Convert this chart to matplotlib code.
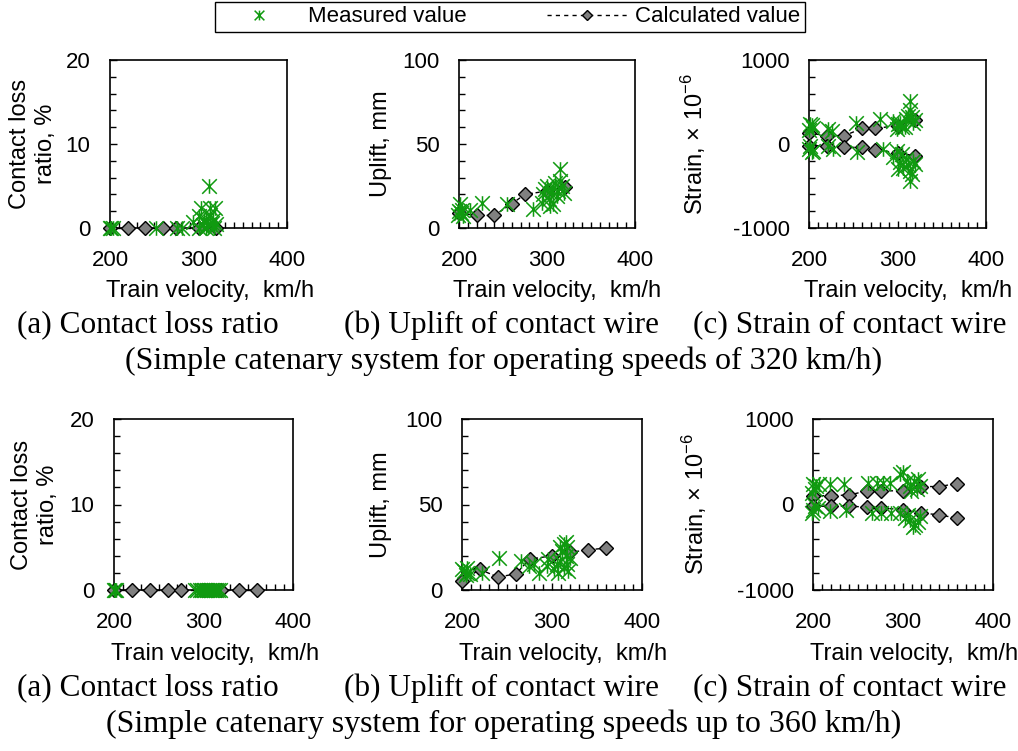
import numpy as np
import matplotlib
matplotlib.use("Agg")
import matplotlib.pyplot as plt
from matplotlib.path import Path
from matplotlib.ticker import MultipleLocator
from matplotlib.lines import Line2D

plt.rcParams['font.family'] = ['Liberation Sans', 'DejaVu Sans']
plt.rcParams['mathtext.fontset'] = 'custom'
plt.rcParams['mathtext.rm'] = 'Liberation Sans'
plt.rcParams['axes.unicode_minus'] = False

W, H = 1018, 751
GREEN = '#109a10'
GRAY = '#808080'

# --- calculated values ---
calc_v_320 = [200, 220, 240, 260, 275, 300, 320]
calc_v_360 = [200, 220, 240, 260, 275, 300, 320, 340, 360]

calc_loss_320 = [0, 0, 0, 0, 0, 0, 0]
calc_loss_360 = [0, 0, 0, 0, 0, 0, 0, 0, 0]
calc_uplift_320 = [9, 7.5, 7.5, 14.5, 20, 22, 24.5]
calc_uplift_360 = [5.5, 12, 7.5, 9.5, 18, 20, 22, 23.5, 24.5]
calc_strain_up_320 = [130, 100, 100, 185, 185, 220, 285]
calc_strain_lo_320 = [-20, -20, -40, -40, -70, -105, -140]
calc_strain_up_360 = [100, 105, 110, 160, 160, 160, 210, 210, 245]
calc_strain_lo_360 = [-20, -20, -20, -30, -40, -60, -100, -120, -160]

# --- measured values ---
meas_loss_320_v = [200, 201, 203, 252, 276, 281, 294, 300, 301, 303, 305, 306, 308, 309, 310, 311,
                   312, 313, 313, 315, 316, 318, 319, 320]
meas_loss_320 = [0, 0, 0, 0, 0, 0, 0.7, 0, 1.4, 2.4, 0.4, 1.0, 0, 1.0, 0.3, 0.2,
                 5.0, 2.4, 1.5, 0.6, 1.0, 0, 2.4, 0.5]

meas_uplift_320_v = [199, 200, 201, 202, 203, 205, 212, 226, 254, 284, 294, 296, 298, 300, 302, 303,
                     305, 307, 307, 309, 311, 313, 315, 315, 317, 319]
meas_uplift_320 = [8, 10, 14, 9, 11, 7, 11, 15, 14, 11.5, 15, 20, 23, 25, 17, 13,
                   21, 14, 24, 27, 19, 22, 35, 28, 25, 21]

meas_strain_up_320_v = [200, 201, 203, 205, 221, 226, 253, 280, 295, 299, 301, 303, 305, 308, 310,
                        312, 314, 314, 316, 318, 320]
meas_strain_up_320 = [170, 240, 230, 190, 180, 160, 255, 295, 275, 180, 240, 255, 200, 200, 295,
                      330, 515, 400, 320, 255, 280]
meas_strain_lo_320_v = [200, 201, 203, 205, 222, 227, 254, 284, 295, 299, 300, 303, 305, 306, 310,
                        312, 314, 314, 316, 318, 320]
meas_strain_lo_320 = [-60, -20, -100, -80, -20, -60, -100, -60, -160, -80, -300, -220, -120, -280, -180,
                      -250, -320, -440, -360, -200, -240]

meas_loss_360_v = [200, 201, 202, 290, 293, 296, 298, 300, 302, 304, 306, 308, 310, 312, 314, 316, 318]
meas_loss_360 = [0] * len(meas_loss_360_v)

meas_uplift_360_v = [200, 202, 204, 205, 206, 209, 222, 241, 265, 274, 280, 285, 294, 296, 302, 305,
                     307, 309, 309, 311, 313, 313, 315, 315, 317, 317, 318, 320]
meas_uplift_360 = [12, 11, 9, 13, 10, 9.5, 10, 19, 17, 14, 15, 10, 14, 18, 12, 15,
                   10, 17, 25, 23, 27, 13, 20, 28, 25, 15, 11, 19]

meas_strain_up_360_v = [199, 200, 202, 203, 207, 219, 234, 261, 271, 278, 286, 297, 300, 304, 308,
                        309, 312, 315, 317, 319]
meas_strain_up_360 = [140, 240, 180, 220, 240, 240, 240, 255, 255, 255, 255, 355, 375, 275, 220,
                      160, 275, 180, 300, 220]
meas_strain_lo_360_v = [199, 200, 202, 206, 219, 237, 265, 276, 287, 297, 302, 306, 308, 311, 313,
                        317, 319]
meas_strain_lo_360 = [-100, -60, -20, -40, -80, -60, -100, -100, -100, -100, -160, -120, -180, -260,
                      -240, -200, -140]

# Excel-like star marker (x with a vertical bar)
star = Path([(-1, -1), (1, 1), (-1, 1), (1, -1), (0, -1), (0, 1)],
            [Path.MOVETO, Path.LINETO, Path.MOVETO, Path.LINETO, Path.MOVETO, Path.LINETO])


def rect(x0, x1, y0, y1):
    return [x0 / W, 1 - y1 / H, (x1 - x0) / W, (y1 - y0) / H]


def plot_calc(ax, v, y):
    ax.plot(v, y, color='black', linestyle=(0, (3, 2)), linewidth=1,
            marker='D', markersize=7, markerfacecolor=GRAY, markeredgecolor='black',
            markeredgewidth=1, clip_on=False, zorder=3)


def plot_meas(ax, v, y):
    ax.plot(v, y, linestyle='none', marker=star, markersize=10.5, markerfacecolor='none',
            markeredgecolor=GREEN, markeredgewidth=1.1, clip_on=False, zorder=4)


def style_axes(ax, ylim, ymajor, yminor, ylabel, ylab_x, xlab_x):
    ax.set_xlim(200, 400)
    ax.set_ylim(*ylim)
    ax.xaxis.set_major_locator(MultipleLocator(100))
    ax.xaxis.set_minor_locator(MultipleLocator(10))
    ax.yaxis.set_major_locator(MultipleLocator(ymajor))
    ax.yaxis.set_minor_locator(MultipleLocator(yminor))
    ax.tick_params(which='both', direction='in', top=False, right=False, labelsize=16)
    ax.tick_params(which='major', length=5, width=1)
    ax.tick_params(which='minor', length=4, width=1)
    ax.tick_params(axis='x', pad=16)
    ax.tick_params(axis='y', pad=14)
    for s in ax.spines.values():
        s.set_linewidth(1.2)
    ax.set_xlabel('Train velocity,  km/h', fontsize=17)
    ax.xaxis.set_label_coords(xlab_x, -0.31)
    ax.set_ylabel(ylabel, fontsize=17, linespacing=1.2)
    ax.yaxis.set_label_coords(ylab_x, 0.5)


fig = plt.figure(figsize=(W / 100, H / 100), dpi=100)

rows = [
    dict(y0=60, y1=228, rects=[(110, 287), (459, 635), (809, 986)], ylab=[-0.30, -0.38, -0.57],
         loss=(calc_v_320, calc_loss_320, meas_loss_320_v, meas_loss_320),
         uplift=(calc_v_320, calc_uplift_320, meas_uplift_320_v, meas_uplift_320),
         strain=(calc_v_320, calc_strain_up_320, calc_strain_lo_320,
                 meas_strain_up_320_v, meas_strain_up_320, meas_strain_lo_320_v, meas_strain_lo_320),
         caption='(Simple catenary system for operating speeds of 320 km/h)', cap_y=325),
    dict(y0=419, y1=590, rects=[(114, 293), (462, 642), (813, 993)], ylab=[-0.31, -0.39, -0.58],
         loss=(calc_v_360, calc_loss_360, meas_loss_360_v, meas_loss_360),
         uplift=(calc_v_360, calc_uplift_360, meas_uplift_360_v, meas_uplift_360),
         strain=(calc_v_360, calc_strain_up_360, calc_strain_lo_360,
                 meas_strain_up_360_v, meas_strain_up_360, meas_strain_lo_360_v, meas_strain_lo_360),
         caption='(Simple catenary system for operating speeds up to 360 km/h)', cap_y=688),
]

sub_titles = ['(a) Contact loss ratio', '(b) Uplift of contact wire', '(c) Strain of contact wire']
sub_x = [148, 502, 850]

for row in rows:
    (ax0, ax1), (bx0, bx1), (cx0, cx1) = row['rects']
    ax_a = fig.add_axes(rect(ax0, ax1, row['y0'], row['y1']))
    ax_b = fig.add_axes(rect(bx0, bx1, row['y0'], row['y1']))
    ax_c = fig.add_axes(rect(cx0, cx1, row['y0'], row['y1']))
    la, lb, lc = row['ylab']

    cv, cy, mv, my = row['loss']
    plot_calc(ax_a, cv, cy)
    plot_meas(ax_a, mv, my)
    style_axes(ax_a, (0, 20), 10, 2, 'Contact loss\nratio, %', la, 0.565)

    cv, cy, mv, my = row['uplift']
    plot_calc(ax_b, cv, cy)
    plot_meas(ax_b, mv, my)
    style_axes(ax_b, (0, 100), 50, 10, 'Uplift, mm', lb, 0.56)

    cv, cup, clo, muv, mup, mlv, mlo = row['strain']
    plot_calc(ax_c, cv, cup)
    plot_calc(ax_c, cv, clo)
    plot_meas(ax_c, muv, mup)
    plot_meas(ax_c, mlv, mlo)
    style_axes(ax_c, (-1000, 1000), 1000, 200, r'Strain, $\times$ 10$^{-6}$', lc, 0.56)

    for t, x in zip(sub_titles, sub_x):
        fig.text(x / W, 1 - row['cap_y'] / H, t, ha='center', va='center',
                 fontsize=22.5, family='Liberation Serif')
    fig.text(504 / W, 1 - (row['cap_y'] + 36) / H, row['caption'], ha='center', va='center',
             fontsize=23, family='Liberation Serif')

# legend
h_meas = Line2D([], [], linestyle='none', marker=star, markersize=10, markerfacecolor='none',
                markeredgecolor=GREEN, markeredgewidth=1.1)
h_calc = Line2D([], [], color='black', linestyle=(0, (3, 3)), linewidth=1, marker='D', markersize=7,
                markerfacecolor=GRAY, markeredgecolor='black')
leg = fig.legend([h_meas, h_calc], ['Measured value', 'Calculated value'], ncol=2,
                 loc='upper left', bbox_to_anchor=(215 / W, 1 - 2 / H, 590 / W, 0), mode='expand',
                 fontsize=16, frameon=True, fancybox=False, edgecolor='black', framealpha=1,
                 handlelength=3.6, handletextpad=0.4, columnspacing=1.6, markerscale=0.7,
                 borderpad=0.2, borderaxespad=0)
leg.get_frame().set_linewidth(1)

fig.savefig('out.png', dpi=100)
